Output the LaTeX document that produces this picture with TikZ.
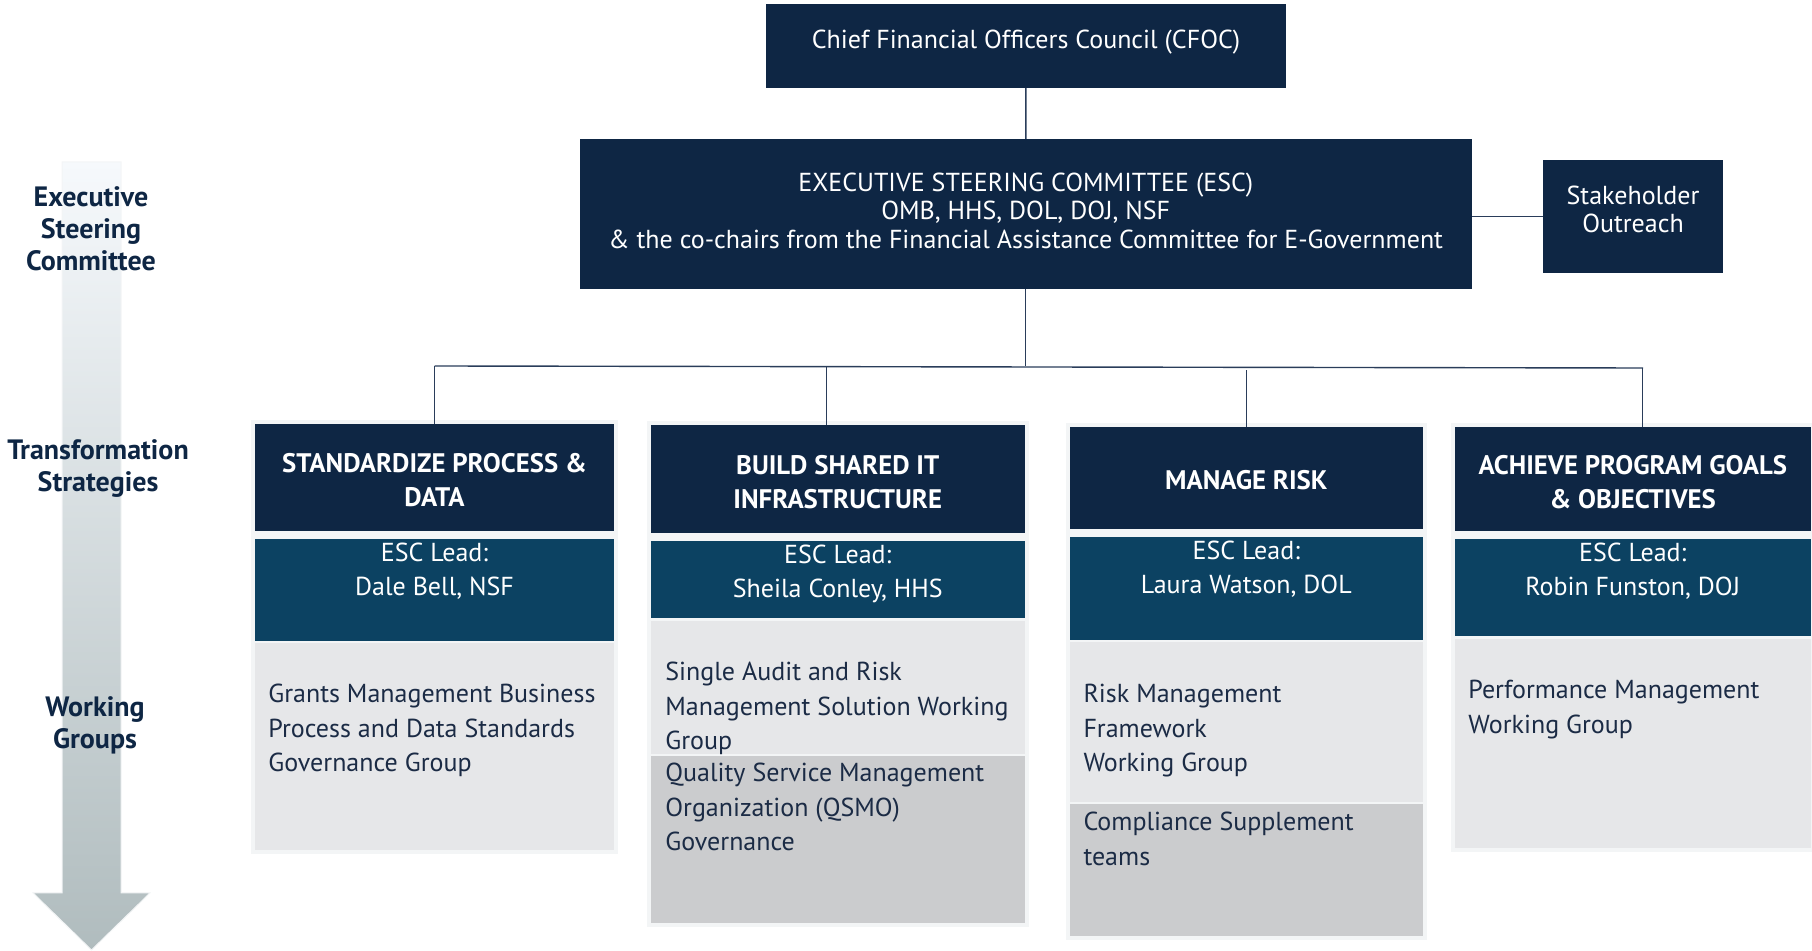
\documentclass[tikz,border=0pt]{standalone}
\usepackage{fontspec}
\setmainfont{PT Sans}
\usetikzlibrary{fit}

\definecolor{navy}{HTML}{0E2644}
\definecolor{leadblue}{HTML}{0C4262}
\definecolor{wglight}{HTML}{E6E7E9}
\definecolor{wgdark}{HTML}{CBCCCE}
\definecolor{wgink}{HTML}{1B2B45}
\definecolor{linecol}{HTML}{2A3D5A}
\definecolor{halo}{HTML}{F3F5F6}
\definecolor{arrowtop}{HTML}{F6F9FC}
\definecolor{arrowmid}{HTML}{DFE7EF}
\definecolor{arrowbot}{HTML}{B0BCBE}

\tikzset{
    darkbox/.style={fill=navy, inner sep=0pt, outer sep=0pt},
    leadbox/.style={fill=leadblue, inner sep=0pt, outer sep=0pt},
    wgbox/.style={fill=wglight, inner sep=0pt, outer sep=0pt},
    wgboxdark/.style={fill=wgdark, inner sep=0pt, outer sep=0pt},
    boxtext/.style={text=white, inner sep=0pt, align=center, anchor=north, font=\fontsize{13}{14.25}\selectfont},
    titletext/.style={text=white, inner sep=0pt, align=center, anchor=north, font=\bfseries\fontsize{13.4}{17}\selectfont},
    leadtext/.style={text=white, inner sep=0pt, align=center, anchor=north, font=\fontsize{13}{17}\selectfont},
    wgtext/.style={text=wgink, inner sep=0pt, align=left, anchor=north west, font=\fontsize{13}{17.25}\selectfont},
    sidetext/.style={text=navy, inner sep=0pt, align=center, font=\bfseries\fontsize{14}{16}\selectfont},
    link/.style={draw=linecol, line width=0.7pt},
}

\begin{document}
\begin{tikzpicture}[x=0.5pt, y=-0.5pt]
    \useasboundingbox (0,0) rectangle (1812,951);

    % level arrow on the left
    \shade[top color=arrowtop, middle color=arrowmid, bottom color=arrowbot, draw=halo, line width=0.5pt]
        (62,162) -- (121,162) -- (121,893) -- (150,893) -- (91.5,950) -- (33,893) -- (62,893) -- cycle;
    \node[sidetext] (exec) at (91,229) {Executive\\Steering\\Committee};
    \node[sidetext] (strat) at (98,469) {Transformation\\Strategies};
    \node[sidetext] (groups) at (95,725) {Working\\Groups};

    % light frames behind the columns
    \fill[halo] (251,420) rectangle (618,854);
    \fill[halo] (647,421) rectangle (1028.5,927);
    \fill[halo] (1065.6,423) rectangle (1427,940);
    \fill[halo] (1450.5,423) rectangle (1812,852);

    \node[darkbox, fit={(766,4) (1286,88)}] (cfoc) {};
    \node[darkbox, fit={(579.5,139) (1472,289)}] (esc) {};
    \node[darkbox, fit={(1543,160) (1723,273)}] (outreach) {};
    \node[boxtext] (cfoctxt) at ([shift={(0,25.5)}]cfoc.north) {Chief Financial Officers Council (CFOC)};
    \node[boxtext] (esctxt) at ([shift={(0,33.5)}]esc.north) {EXECUTIVE STEERING COMMITTEE (ESC)\\OMB, HHS, DOL, DOJ, NSF\\\& the co-chairs from the Financial Assistance Committee for E-Government};
    \node[boxtext, font=\fontsize{13}{14}\selectfont] (outreachtxt) at ([shift={(0,26)}]outreach.north) {Stakeholder\\Outreach};

    % standardize
    \node[darkbox, fit={(255,424) (614,531)}] (t1) {};
    \node[leadbox, fit={(255,539) (614,641)}] (l1) {};
    \node[wgbox, fit={(255,643) (614,850)}] (w1) {};
    \node[titletext] (t1txt) at ([shift={(0,29)}]t1.north) {STANDARDIZE PROCESS \&\\DATA};
    \node[leadtext] (l1txt) at ([shift={(0,4)}]l1.north) {ESC Lead:\\Dale Bell, NSF};
    \node[wgtext] (w1txt) at ([shift={(13,41)}]w1.north west) {Grants Management Business\\Process and Data Standards\\Governance Group};

    % shared IT
    \node[darkbox, fit={(651,425) (1024.5,533)}] (t2) {};
    \node[leadbox, fit={(651,541) (1024.5,618)}] (l2) {};
    \node[wgbox, fit={(651,621) (1024.5,754)}] (w2) {};
    \node[wgboxdark, fit={(651,756) (1024.5,923)}] (w2b) {};
    \node[titletext] (t2txt) at ([shift={(0,30)}]t2.north) {BUILD SHARED IT\\INFRASTRUCTURE};
    \node[leadtext] (l2txt) at ([shift={(0,4)}]l2.north) {ESC Lead:\\Sheila Conley, HHS};
    \node[wgtext] (w2txt) at ([shift={(14,41)}]w2.north west) {Single Audit and Risk\\Management Solution Working\\Group};
    \node[wgtext] (w2btxt) at ([shift={(14,7)}]w2b.north west) {Quality Service Management\\Organization (QSMO)\\Governance};

    % risk
    \node[darkbox, fit={(1069.6,427) (1423,529)}] (t3) {};
    \node[leadbox, fit={(1069.6,537) (1423,640)}] (l3) {};
    \node[wgbox, fit={(1069.6,642) (1423,802)}] (w3) {};
    \node[wgboxdark, fit={(1069.6,804) (1423,936)}] (w3b) {};
    \node[titletext] (t3txt) at ([shift={(0,43)}]t3.north) {MANAGE RISK};
    \node[leadtext] (l3txt) at ([shift={(0,4)}]l3.north) {ESC Lead:\\Laura Watson, DOL};
    \node[wgtext] (w3txt) at ([shift={(13.5,42)}]w3.north west) {Risk Management\\Framework\\Working Group};
    \node[wgtext] (w3btxt) at ([shift={(13.5,8)}]w3b.north west) {Compliance Supplement\\teams};

    % program goals
    \node[darkbox, fit={(1454.5,427) (1811,531)}] (t4) {};
    \node[leadbox, fit={(1454.5,539) (1811,636)}] (l4) {};
    \node[wgbox, fit={(1454.5,639) (1811,848)}] (w4) {};
    \node[titletext] (t4txt) at ([shift={(0,28)}]t4.north) {ACHIEVE PROGRAM GOALS\\\& OBJECTIVES};
    \node[leadtext] (l4txt) at ([shift={(0,4)}]l4.north) {ESC Lead:\\Robin Funston, DOJ};
    \node[wgtext] (w4txt) at ([shift={(13.5,41)}]w4.north west) {Performance Management\\Working Group};

    % connectors
    \coordinate (busL) at (434.5,366);
    \coordinate (busR) at (1643,368);
    \coordinate (d2) at ([shift={(-11,0)}]t2.north);
    \coordinate (d4) at ([shift={(10,0)}]t4.north);
    \draw[link] (cfoc) -- (esc);
    \draw[link] (outreach.west) -- (outreach.west -| esc.east);
    \draw[link] (esc.south) -- (esc.south |- busL);
    \draw[link] (busL) -- (busR);
    \draw[link] (t1.north) -- (t1.north |- busL);
    \draw[link] (d2) -- (d2 |- busL);
    \draw[link] (t3.north) -- ([yshift=-2pt]t3.north |- busL);
    \draw[link] (d4) -- (d4 |- busR);
\end{tikzpicture}
\end{document}
